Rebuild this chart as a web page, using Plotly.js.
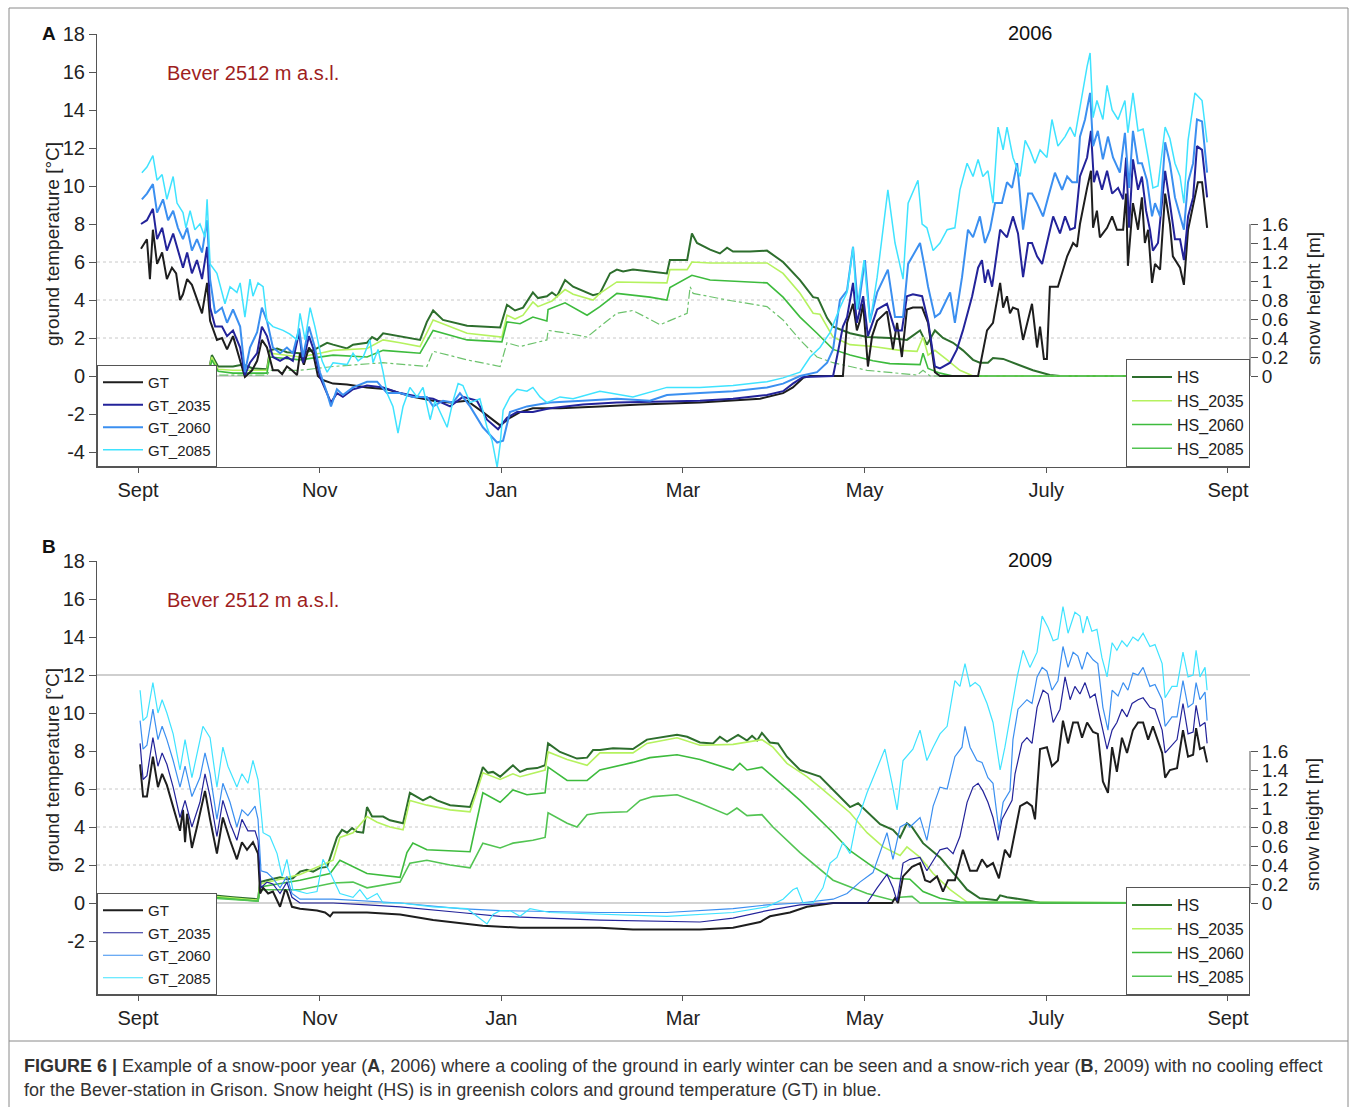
<!DOCTYPE html>
<html>
<head>
<meta charset="utf-8">
<script src="https://cdn.plot.ly/plotly-3.0.1.min.js"></script>
<style>html,body{margin:0;padding:0;background:#fff}#chart{width:1358px;height:1107px}</style>
</head>
<body>
<div id="chart"></div>
<script>
// ---------- axis tick labels ----------
const monthTicks = [0, 61, 122, 183, 244, 305, 366];
const monthLabels = ['Sept', 'Nov', 'Jan', 'Mar', 'May', 'July', 'Sept'];
const hsTicks = [0, 0.2, 0.4, 0.6, 0.8, 1, 1.2, 1.4, 1.6];
const hsLabels = ['0', '0.2', '0.4', '0.6', '0.8', '1', '1.2', '1.4', '1.6'];
const tempTicksA = [-4, -2, 0, 2, 4, 6, 8, 10, 12, 14, 16, 18];
const tempTicksB = [-2, 0, 2, 4, 6, 8, 10, 12, 14, 16, 18];

// ---------- Panel A (2006): [day since 1 Sept, value] ----------
const A_GT = [[1.0,6.7],[3.0,7.2],[4.0,5.1],[5.0,7.7],[6.4,5.9],[8.1,6.5],[9.7,5.1],[11.4,5.7],[12.8,5.4],[14.1,4.0],[15.1,4.3],[16.5,5.1],[18.1,4.8],[19.8,4.0],[21.5,3.3],[23.2,4.9],[24.2,2.9],[26.5,1.9],[28.2,2.0],[29.9,1.4],[31.9,2.1],[34.3,0.8],[35.9,-0.05],[38.3,0.3],[40.0,0.8],[41.6,1.9],[43.3,1.5],[45.3,0.3],[47.0,0.3],[48.4,0.1],[50.0,0.5],[51.7,0.3],[53.4,0.05],[54.4,1.2],[55.7,0.6],[57.4,1.5],[58.8,1.2],[60.4,0.0],[61.8,-0.2],[65.5,-0.4],[70.2,-0.45],[76.9,-0.6],[83.6,-0.7],[92.3,-1.1],[99.1,-1.3],[104.8,-1.4],[110.5,-1.3],[115.8,-1.9],[121.6,-2.6],[124.9,-2.2],[128.3,-1.9],[132.6,-1.7],[141.7,-1.7],[155.1,-1.6],[168.6,-1.5],[188.7,-1.4],[208.9,-1.2],[216.6,-0.9],[219.9,-0.6],[223.3,-0.1],[225.7,0],[236.7,0],[238.1,2.8],[240.1,3.8],[241.4,2.4],[242.4,2.9],[243.5,3.8],[245.1,0.5],[246.5,2.1],[248.2,2.9],[251.5,3.4],[253.5,1.4],[254.9,2.8],[256.5,1.0],[258.2,3.5],[260.2,3.6],[263.3,3.6],[265.3,2.8],[267.6,0.2],[269.3,0],[282.1,0],[285.1,2.4],[287.1,2.8],[289.5,4.9],[290.5,3.6],[291.8,4.2],[292.8,3.3],[293.8,3.6],[295.5,3.5],[297.2,1.9],[298.9,2.9],[300.2,3.8],[301.9,1.5],[302.9,2.6],[304.2,0.9],[305.2,0.9],[306.2,4.7],[308.9,4.7],[312.0,6.3],[314.0,7.0],[315.3,6.8],[316.3,8.0],[318.7,9.9],[320.0,10.8],[320.7,7.8],[322.0,8.7],[323.0,7.3],[325.4,7.8],[327.1,8.4],[328.7,7.7],[330.8,7.7],[331.8,9.6],[332.4,5.8],[334.1,9.1],[335.8,7.7],[337.1,9.4],[338.1,7.0],[339.2,7.7],[340.5,4.9],[341.5,5.9],[343.2,5.6],[344.9,9.6],[346.5,8.0],[347.5,6.3],[349.9,5.7],[351.2,4.8],[352.6,7.7],[354.3,8.9],[355.9,10.2],[357.3,10.2],[359.0,7.8]];
const A_GT2035 = [[1.0,8.0],[3.0,8.2],[5.0,8.8],[6.4,7.2],[8.1,7.8],[9.7,6.6],[11.8,7.5],[13.4,6.6],[15.1,5.7],[16.5,6.5],[18.1,5.4],[19.8,6.1],[21.5,5.1],[23.2,6.8],[24.2,3.6],[25.9,2.6],[28.2,2.6],[29.9,2.1],[31.9,2.4],[34.3,1.5],[35.9,0.05],[37.6,0.7],[40.0,1.2],[41.6,2.6],[43.3,2.1],[45.3,1.0],[47.7,0.8],[50.0,1.0],[52.0,0.8],[54.1,2.3],[55.4,0.7],[57.4,2.1],[59.4,1.2],[61.1,-0.05],[63.5,-0.9],[64.8,-1.4],[66.8,-0.9],[68.8,-1.1],[72.2,-0.7],[76.9,-0.5],[82.3,-0.6],[88.0,-0.9],[94.7,-1.1],[99.1,-1.2],[104.8,-1.6],[109.1,-1.1],[113.8,-1.3],[117.2,-2.3],[120.9,-2.8],[123.9,-2.2],[127.3,-1.9],[132.6,-1.9],[138.3,-1.7],[149.4,-1.5],[160.8,-1.4],[188.7,-1.3],[199.8,-1.2],[211.2,-1.0],[216.6,-0.8],[219.9,-0.4],[223.3,-0.05],[233.4,0],[234.7,1.0],[236.7,2.6],[238.1,3.1],[240.1,4.9],[241.4,2.8],[243.5,4.2],[245.1,2.1],[248.2,3.5],[251.5,3.8],[254.2,2.4],[256.5,2.4],[258.2,4.2],[260.2,4.3],[263.3,4.2],[265.3,2.9],[267.6,0.5],[269.3,0.4],[272.7,0.7],[275.0,1.4],[277.0,2.4],[280.1,4.2],[282.1,5.7],[283.4,6.1],[284.4,4.9],[285.4,5.6],[286.8,4.7],[289.5,7.7],[291.8,7.3],[293.8,8.4],[295.5,7.5],[297.2,5.2],[298.9,7.0],[300.2,7.0],[301.9,6.3],[303.6,5.9],[305.2,7.0],[307.3,8.4],[309.6,7.5],[311.3,8.4],[313.0,7.7],[314.6,7.8],[316.3,10.5],[318.7,11.5],[320.0,12.9],[321.0,10.2],[322.0,10.8],[323.7,9.8],[325.4,10.8],[327.1,9.6],[329.1,9.9],[330.8,9.3],[331.8,11.5],[332.8,7.8],[334.1,11.4],[335.8,9.8],[337.1,10.5],[338.5,8.7],[339.8,7.7],[340.8,6.6],[342.5,7.0],[344.9,10.8],[346.5,9.1],[348.2,7.2],[349.9,7.2],[351.2,6.1],[352.6,8.4],[354.3,9.4],[355.6,12.1],[357.3,11.9],[359.0,9.4]];
const A_GT2060 = [[1.3,9.3],[3.0,9.6],[5.0,10.1],[6.4,8.6],[8.4,9.3],[10.1,8.2],[11.8,8.7],[13.4,7.8],[15.1,7.2],[16.5,7.8],[18.1,6.6],[19.8,7.2],[21.5,6.5],[23.2,8.2],[24.2,5.1],[25.9,3.3],[28.2,3.6],[29.9,2.8],[31.9,3.5],[34.3,2.6],[35.9,0.2],[37.6,1.5],[40.0,2.3],[41.6,3.6],[43.3,2.9],[45.3,1.5],[47.7,1.2],[50.0,1.5],[52.0,1.2],[54.1,2.5],[55.4,1.0],[57.4,2.6],[59.4,1.5],[61.1,0.2],[63.5,-0.9],[64.8,-1.6],[66.8,-0.7],[68.8,-1.0],[72.2,-0.6],[76.9,-0.3],[80.3,-0.3],[83.6,-0.9],[88.0,-0.9],[92.3,-1.1],[97.0,-1.1],[99.1,-1.6],[102.4,-1.3],[105.8,-1.4],[108.1,-0.9],[111.5,-1.6],[115.8,-2.7],[120.6,-3.5],[122.6,-3.4],[124.9,-1.9],[130.6,-1.6],[138.3,-1.4],[149.4,-1.3],[160.8,-1.2],[171.9,-1.3],[177.6,-1.0],[188.7,-0.9],[199.8,-0.8],[211.2,-0.6],[216.6,-0.4],[222.3,0],[228.0,0.2],[231.4,0.7],[233.4,1.4],[235.7,4.0],[238.1,4.5],[240.1,6.8],[241.8,3.5],[244.1,6.1],[245.8,2.9],[248.2,4.4],[251.8,5.6],[254.2,3.1],[256.9,3.1],[258.6,5.9],[262.6,7.0],[264.3,5.6],[265.3,4.7],[267.6,3.1],[269.3,3.3],[272.7,4.4],[274.3,2.8],[276.7,5.2],[278.7,7.7],[280.4,7.3],[282.7,8.4],[284.4,7.0],[286.1,7.7],[287.8,9.1],[290.1,9.1],[291.8,10.2],[293.5,9.9],[295.2,11.2],[297.2,7.7],[298.9,9.6],[300.2,9.6],[301.9,9.1],[303.9,8.4],[305.6,9.4],[307.9,10.7],[310.3,9.8],[312.0,10.5],[313.7,10.2],[315.3,10.2],[316.3,12.6],[318.0,13.5],[319.7,14.9],[320.7,12.1],[322.3,12.9],[324.0,11.4],[325.7,12.6],[327.4,11.5],[329.7,10.7],[331.4,12.8],[332.8,9.9],[334.1,12.9],[335.8,11.2],[337.1,11.2],[338.8,10.3],[340.5,8.4],[341.5,9.1],[343.2,8.4],[344.9,12.3],[346.5,11.2],[348.2,9.4],[349.9,8.4],[351.2,7.7],[352.6,10.2],[354.3,11.2],[355.6,13.5],[357.3,13.4],[359.0,10.7]];
const A_GT2085 = [[1.3,10.7],[3.0,11.0],[5.0,11.6],[6.4,10.3],[8.1,10.6],[9.7,9.3],[11.8,10.5],[13.1,9.1],[15.1,8.6],[16.1,7.8],[17.5,8.7],[19.1,7.7],[20.8,8.0],[22.5,7.3],[23.2,9.3],[24.2,5.9],[26.5,5.4],[29.2,3.8],[30.9,4.7],[33.2,4.4],[34.3,4.9],[35.9,3.1],[37.6,5.1],[38.6,4.2],[40.3,4.9],[42.0,4.7],[43.3,2.9],[45.3,2.6],[48.7,2.4],[51.0,2.2],[53.4,1.9],[54.4,3.3],[56.1,1.9],[57.8,3.6],[59.4,2.6],[61.8,0.8],[63.5,0.2],[65.5,0.7],[70.2,0.6],[72.2,1.2],[73.9,0.8],[75.6,1.0],[77.9,1.9],[78.9,0.7],[80.6,1.4],[82.3,0.2],[83.6,-0.9],[85.6,-1.6],[87.3,-3.0],[89.0,-1.6],[91.3,-0.6],[93.7,-1.1],[95.7,-0.6],[98.1,-2.3],[99.7,-1.3],[103.8,-2.7],[105.8,-1.3],[107.5,-0.4],[109.1,-0.5],[111.5,-1.4],[114.8,-1.2],[117.2,-2.7],[118.9,-3.4],[120.6,-4.8],[121.6,-3.6],[122.6,-1.8],[124.9,-1.1],[127.3,-0.7],[130.6,-0.8],[132.6,-0.6],[135.0,-1.1],[137.3,-1.4],[141.7,-1.1],[146.1,-1.2],[155.1,-0.8],[166.2,-1.1],[177.6,-0.6],[188.7,-0.6],[199.8,-0.5],[211.2,-0.3],[216.6,-0.1],[222.3,0.2],[225.7,1.0],[229.0,1.5],[232.4,2.3],[235.7,3.6],[238.1,4.4],[240.1,6.8],[241.4,3.5],[243.8,6.1],[245.8,2.8],[248.2,5.2],[251.8,9.8],[254.2,7.0],[256.9,5.1],[258.6,9.1],[261.9,10.3],[263.3,8.0],[264.9,7.8],[267.0,6.6],[269.3,7.0],[271.7,7.7],[274.3,7.8],[276.0,9.8],[278.4,11.2],[280.4,10.5],[282.1,11.4],[283.7,10.5],[285.4,10.8],[287.1,9.1],[288.8,13.1],[290.5,11.9],[291.8,13.1],[293.8,11.5],[296.2,10.5],[297.9,12.4],[299.5,11.9],[301.2,11.2],[302.9,11.9],[305.2,11.5],[306.9,13.5],[308.9,12.1],[311.3,12.6],[313.0,13.1],[314.6,12.6],[316.3,14.2],[318.7,16.3],[319.7,17.0],[320.7,13.6],[322.0,14.5],[324.0,13.5],[325.4,15.3],[327.1,14.0],[329.1,13.5],[331.4,14.5],[332.4,12.8],[334.1,14.9],[335.8,12.9],[337.5,13.0],[339.2,11.5],[340.8,9.9],[342.5,10.0],[344.9,13.1],[346.5,12.5],[348.2,11.2],[349.9,10.5],[351.2,9.1],[352.6,12.4],[354.9,14.9],[357.3,14.5],[359.0,12.3]];
const A_HS = [[22.5,0],[23.5,0.02],[24.8,0.22],[26.9,0.1],[31.9,0.1],[35.3,0.12],[38.6,0.08],[43.3,0.07],[44.3,0.27],[46.7,0.29],[50.0,0.25],[54.4,0.24],[58.8,0.27],[61.1,0.31],[63.5,0.35],[65.5,0.33],[70.2,0.29],[72.2,0.33],[76.9,0.35],[78.6,0.41],[80.3,0.38],[82.3,0.45],[85.6,0.43],[94.7,0.38],[97.0,0.57],[99.1,0.69],[102.4,0.59],[110.5,0.53],[121.6,0.51],[123.9,0.75],[126.6,0.69],[129.3,0.72],[132.6,0.88],[134.3,0.82],[137.3,0.84],[139.0,0.88],[140.7,0.84],[143.4,1.01],[146.1,0.94],[152.8,0.85],[155.1,0.87],[158.5,1.08],[160.8,1.12],[162.9,1.10],[166.2,1.12],[171.9,1.10],[177.6,1.08],[178.6,1.22],[184.4,1.22],[186.0,1.5],[187.7,1.40],[192.1,1.33],[195.4,1.29],[197.8,1.35],[199.8,1.31],[205.5,1.31],[211.2,1.32],[216.6,1.2],[222.3,1.01],[226.7,0.83],[228.3,0.82],[231.4,0.61],[233.4,0.52],[239.1,0.45],[244.8,0.41],[252.5,0.40],[258.2,0.38],[262.6,0.48],[264.9,0.33],[267.6,0.48],[270.3,0.40],[273.7,0.35],[277.0,0.27],[280.4,0.17],[282.7,0.14],[285.4,0.14],[287.1,0.19],[290.5,0.18],[295.2,0.12],[300.5,0.06],[306.2,0.01],[309.6,0],[359.0,0]];
const A_HS2035 = [[22.5,0],[23.5,0.02],[24.8,0.2],[26.9,0.07],[31.9,0.06],[43.3,0.06],[44.3,0.24],[54.4,0.2],[61.1,0.24],[65.5,0.27],[76.9,0.29],[82.3,0.38],[88.0,0.35],[94.7,0.31],[99.1,0.59],[110.5,0.45],[122.2,0.41],[123.9,0.64],[126.6,0.6],[129.3,0.64],[132.6,0.78],[134.3,0.73],[139.0,0.79],[143.4,0.91],[146.1,0.86],[152.8,0.80],[155.1,0.87],[160.8,0.99],[177.6,0.98],[178.6,1.12],[184.4,1.12],[186.0,1.2],[192.1,1.19],[211.2,1.19],[216.6,1.08],[222.3,0.87],[226.7,0.66],[229.0,0.65],[233.4,0.41],[239.1,0.33],[246.8,0.31],[255.9,0.27],[261.6,0.26],[263.6,0.41],[265.3,0.22],[267.6,0.27],[271.7,0.17],[276.0,0.06],[280.4,0],[359.0,0]];
const A_HS2060 = [[22.5,0],[23.8,0.02],[24.8,0.17],[26.9,0.05],[31.9,0.03],[43.3,0.03],[44.3,0.2],[54.4,0.17],[65.5,0.22],[76.9,0.2],[82.3,0.27],[94.7,0.24],[99.1,0.48],[110.5,0.38],[122.2,0.36],[123.9,0.57],[128.3,0.55],[132.6,0.62],[137.3,0.58],[137.7,0.7],[143.4,0.77],[150.8,0.64],[155.1,0.73],[160.8,0.87],[171.9,0.83],[177.6,0.8],[178.6,0.93],[186.0,1.06],[192.1,1.01],[211.2,0.98],[216.6,0.83],[222.3,0.62],[228.0,0.45],[233.4,0.28],[239.1,0.22],[246.8,0.16],[252.5,0.13],[262.6,0.12],[263.6,0.24],[265.3,0.08],[269.3,0.03],[273.7,0],[359.0,0]];
const A_HS2085 = [[22.5,0],[24.2,0.06],[27.5,0.01],[43.3,0.01],[44.3,0.06],[54.4,0.06],[65.5,0.1],[82.3,0.14],[97.0,0.1],[99.1,0.26],[110.5,0.17],[121.6,0.1],[123.9,0.35],[128.3,0.31],[137.3,0.38],[137.7,0.48],[144.1,0.45],[150.8,0.41],[155.1,0.52],[160.8,0.66],[166.2,0.69],[175.3,0.54],[184.4,0.66],[185.4,0.94],[186.4,0.87],[197.8,0.8],[211.2,0.73],[216.6,0.59],[222.3,0.38],[228.0,0.2],[233.4,0.14],[244.8,0.06],[261.6,0.01],[263.6,0.06],[266.0,0],[359.0,0]];

// ---------- Panel B (2009) ----------
const B_GT = [[0.7,7.3],[1.7,5.6],[3.0,5.6],[5.0,7.7],[6.7,6.1],[8.1,6.8],[9.7,6.2],[11.8,5.1],[14.1,3.8],[15.1,4.9],[15.8,3.2],[16.5,4.7],[18.1,2.9],[19.8,4.0],[22.5,5.9],[24.2,4.4],[26.5,2.6],[28.5,4.5],[30.9,3.3],[33.2,2.3],[34.9,3.2],[36.6,2.8],[38.6,3.2],[40.3,2.6],[41.0,0.5],[42.0,0.8],[43.7,0.5],[45.3,0.6],[47.7,-0.2],[49.4,0.7],[50.0,0.6],[51.7,-0.2],[54.4,-0.3],[60.1,-0.4],[62.8,-0.5],[64.5,-0.7],[65.5,-0.5],[76.9,-0.5],[88.0,-0.6],[99.1,-0.9],[110.5,-1.1],[115.8,-1.2],[128.3,-1.3],[155.1,-1.3],[166.2,-1.4],[188.7,-1.4],[199.8,-1.3],[208.9,-1.0],[212.2,-0.7],[218.9,-0.5],[224.6,-0.2],[233.4,0],[253.2,0],[254.2,0.26],[255.2,0],[256.9,1.4],[259.9,1.9],[262.6,2.1],[264.3,1.2],[266.0,1.1],[268.3,1.4],[270.3,0.6],[272.0,1.2],[274.3,1.2],[277.0,2.8],[279.4,1.7],[281.7,1.7],[283.4,2.3],[285.1,1.9],[287.1,2.1],[289.1,1.3],[291.1,2.8],[292.8,2.4],[296.2,5.1],[298.5,5.3],[300.2,5.1],[301.2,4.4],[302.9,8.1],[305.2,8.2],[306.9,7.2],[308.9,7.5],[310.6,9.6],[312.3,8.4],[314.0,9.5],[315.6,9.5],[317.0,8.7],[318.7,9.5],[320.7,9.0],[322.3,8.9],[324.0,6.4],[325.7,5.8],[327.1,8.2],[328.7,6.9],[330.4,8.7],[332.1,7.9],[334.1,9.1],[335.8,9.5],[337.5,9.5],[339.2,8.6],[340.8,9.3],[343.9,7.9],[344.9,6.6],[346.5,7.0],[348.9,7.1],[350.9,9.1],[352.6,7.7],[354.3,7.8],[355.3,9.2],[356.6,8.1],[357.9,8.2],[359.0,7.4]];
const B_GT2035 = [[0.7,8.4],[1.7,6.5],[3.0,6.7],[5.0,8.7],[6.7,7.2],[8.1,7.9],[9.7,7.3],[11.8,6.1],[14.1,4.5],[15.8,5.4],[18.1,4.0],[20.8,5.3],[22.5,6.8],[24.2,5.6],[26.5,3.5],[28.5,5.4],[30.9,4.2],[33.2,3.3],[34.9,4.4],[36.9,3.8],[39.3,3.8],[40.3,3.3],[41.3,0.8],[43.3,1.1],[45.3,1.0],[47.7,0.5],[50.0,1.1],[51.7,0.3],[54.4,0],[65.5,0],[76.9,-0.1],[88.0,-0.2],[108.1,-0.5],[121.6,-0.7],[155.1,-0.9],[188.7,-1.0],[199.8,-0.8],[211.2,-0.4],[222.3,-0.1],[233.4,0],[244.8,0],[248.2,0.8],[251.5,1.5],[253.5,0.8],[254.9,0.1],[256.9,2.1],[259.2,2.3],[262.6,2.4],[264.9,1.7],[269.3,2.8],[271.7,2.9],[273.7,2.6],[276.0,3.5],[278.4,5.3],[280.4,6.1],[282.1,6.3],[283.7,5.9],[285.4,5.3],[287.1,4.5],[288.8,3.3],[290.1,4.4],[291.8,4.9],[293.5,5.4],[294.5,6.8],[296.8,8.4],[298.5,8.7],[300.2,8.4],[301.9,10.3],[303.9,11.2],[305.6,11.0],[307.3,9.5],[309.6,10.2],[311.3,11.9],[313.0,10.7],[314.6,11.4],[316.3,11.0],[318.0,11.6],[319.7,10.8],[321.4,11.0],[323.0,9.8],[325.4,8.1],[327.1,9.1],[328.7,9.5],[330.4,10.2],[332.1,9.8],[333.8,10.5],[335.8,10.7],[337.5,10.8],[339.8,10.3],[341.5,10.2],[343.9,9.1],[344.9,7.9],[346.5,8.2],[348.9,8.6],[350.9,10.5],[352.6,8.9],[354.3,9.0],[355.3,10.4],[356.6,9.3],[358.3,9.5],[359.0,8.4]];
const B_GT2060 = [[0.7,9.6],[1.7,8.1],[3.0,8.3],[5.0,10.2],[6.7,8.6],[8.1,9.3],[9.7,8.6],[11.8,7.5],[14.1,6.1],[15.8,7.2],[18.1,5.6],[20.8,6.6],[22.5,7.9],[24.2,6.8],[26.5,4.4],[28.5,6.3],[30.9,5.3],[33.2,4.0],[34.9,4.9],[36.9,4.6],[39.3,5.1],[40.3,4.4],[41.3,1.7],[43.3,1.6],[45.3,1.3],[47.7,0.8],[50.0,1.4],[51.7,0.5],[54.4,0.2],[65.5,0.2],[88.0,0],[108.1,-0.3],[121.6,-0.4],[155.1,-0.5],[177.6,-0.5],[199.8,-0.3],[211.2,-0.1],[222.3,0],[233.4,0.2],[238.1,0.5],[242.4,1.1],[246.8,1.6],[251.5,3.7],[253.5,2.3],[255.9,4.0],[258.2,4.2],[259.2,4.0],[262.6,4.5],[264.9,3.3],[267.0,5.1],[269.3,6.1],[271.7,6.0],[274.3,7.7],[276.7,8.2],[277.7,9.3],[279.4,8.2],[281.7,7.5],[283.4,7.4],[285.4,6.6],[287.1,6.3],[289.1,3.8],[290.5,5.3],[292.8,5.9],[293.8,8.6],[295.5,10.2],[298.5,10.7],[300.2,10.5],[301.9,11.9],[303.6,12.4],[305.2,12.2],[306.9,11.2],[308.9,11.7],[310.6,13.5],[312.3,12.4],[314.0,13.2],[315.6,13.0],[317.0,12.3],[318.7,13.2],[320.7,12.8],[322.3,12.6],[324.0,10.3],[325.7,9.1],[327.1,11.2],[329.1,10.9],[330.8,11.6],[332.4,11.2],[334.1,12.1],[335.8,12.0],[337.5,12.4],[339.8,11.4],[341.5,11.5],[343.9,10.7],[344.9,9.3],[347.2,9.8],[348.9,9.8],[350.9,11.7],[352.6,10.3],[354.3,10.5],[355.3,11.6],[356.6,10.7],[358.3,11.1],[359.0,9.6]];
const B_GT2085 = [[0.7,11.2],[1.7,9.6],[3.0,9.8],[5.0,11.6],[6.7,10.0],[8.1,10.7],[9.7,10.0],[11.8,8.9],[14.1,7.0],[15.8,8.6],[18.1,6.6],[21.8,9.3],[24.2,8.7],[26.5,6.1],[28.5,8.2],[30.2,7.2],[33.2,6.1],[34.9,6.8],[36.9,6.3],[38.6,7.5],[40.3,6.5],[42.0,3.7],[44.3,3.5],[46.7,2.6],[48.4,1.4],[50.0,2.3],[52.0,0.7],[56.7,0.5],[60.1,0.6],[62.1,2.3],[64.5,1.6],[67.8,0.5],[72.2,0.3],[74.5,0.7],[76.9,0.2],[80.3,0.5],[82.3,0],[88.0,0],[99.1,-0.2],[110.5,-0.3],[117.2,-1.1],[119.2,-0.6],[121.6,-0.4],[124.9,-0.4],[128.3,-0.7],[131.6,-0.3],[138.3,-0.5],[155.1,-0.6],[177.6,-0.7],[199.8,-0.5],[211.2,-0.2],[216.6,0.2],[219.9,0.7],[221.3,0.8],[223.3,0],[226.7,0],[230.0,0.8],[232.4,2.1],[234.7,2.4],[236.7,3.2],[239.1,2.6],[241.4,4.4],[242.4,4.7],[244.8,5.8],[246.8,6.6],[250.8,8.1],[253.2,6.3],[254.9,4.9],[256.9,7.5],[258.6,7.8],[260.2,8.1],[262.6,9.1],[264.9,7.5],[267.0,8.2],[269.3,8.9],[271.7,9.3],[274.3,11.7],[276.0,11.4],[277.7,12.6],[279.4,11.4],[281.1,11.6],[282.7,11.4],[285.1,10.5],[287.1,9.5],[289.5,7.0],[291.1,8.2],[292.8,9.8],[295.2,11.9],[297.2,13.3],[299.5,12.4],[301.9,13.2],[303.6,15.1],[305.6,14.5],[307.3,13.8],[308.9,13.9],[310.6,15.6],[312.3,14.2],[314.6,15.3],[316.3,15.1],[317.3,14.2],[318.7,15.1],[320.3,14.3],[322.0,14.4],[323.7,12.9],[325.4,11.9],[327.1,13.7],[328.7,13.3],[330.4,13.8],[332.1,13.5],[334.1,14.0],[335.8,13.8],[337.5,14.2],[339.8,13.5],[341.5,13.6],[343.9,12.6],[344.9,10.8],[347.2,11.4],[348.9,11.4],[350.9,13.2],[352.6,11.9],[354.3,12.0],[355.3,13.3],[356.6,11.9],[358.3,12.4],[359.0,11.2]];
const B_HS = [[24.2,0],[25.2,0.08],[31.9,0.06],[40.3,0.04],[41.0,0.22],[43.3,0.24],[47.7,0.27],[50.0,0.25],[52.0,0.26],[54.4,0.33],[56.7,0.35],[58.8,0.33],[61.1,0.37],[63.5,0.38],[65.1,0.53],[66.8,0.69],[68.5,0.77],[70.2,0.74],[71.9,0.79],[73.5,0.75],[75.6,0.74],[76.9,1.01],[78.6,0.91],[82.3,0.91],[84.6,0.87],[89.0,0.84],[91.3,1.16],[93.7,1.12],[95.7,1.08],[98.1,1.12],[100.4,1.08],[104.8,1.03],[111.5,1.01],[113.2,1.16],[115.8,1.43],[117.5,1.37],[119.2,1.38],[121.6,1.33],[125.9,1.45],[128.3,1.38],[130.6,1.41],[134.0,1.42],[136.7,1.45],[137.7,1.68],[141.7,1.59],[147.4,1.52],[150.8,1.53],[152.8,1.61],[155.1,1.61],[159.5,1.63],[166.2,1.62],[170.9,1.72],[175.3,1.74],[181.0,1.77],[184.4,1.75],[188.7,1.69],[193.1,1.68],[195.4,1.75],[197.8,1.70],[201.5,1.77],[204.5,1.71],[206.2,1.76],[207.9,1.71],[209.5,1.79],[212.2,1.69],[214.9,1.68],[217.9,1.54],[222.3,1.40],[229.0,1.33],[233.4,1.19],[239.1,1.01],[241.8,1.05],[243.5,1.0],[246.8,0.91],[249.2,0.83],[253.5,0.77],[255.9,0.69],[258.2,0.84],[259.9,0.80],[263.6,0.63],[269.3,0.48],[275.0,0.27],[278.4,0.14],[282.7,0.05],[288.4,0.03],[289.5,0.08],[291.8,0.06],[298.5,0.03],[302.9,0],[359.0,0]];
const B_HS2035 = [[24.2,0],[25.2,0.07],[40.3,0.03],[41.0,0.2],[54.4,0.3],[65.5,0.45],[67.8,0.69],[72.2,0.74],[76.9,0.91],[80.3,0.85],[84.6,0.8],[89.0,0.77],[91.3,1.08],[97.0,1.03],[104.8,0.98],[111.5,0.96],[115.8,1.37],[121.6,1.30],[125.9,1.36],[128.3,1.33],[136.7,1.40],[137.7,1.59],[144.1,1.51],[150.8,1.45],[155.1,1.58],[166.2,1.58],[170.9,1.68],[181.0,1.74],[188.7,1.66],[199.8,1.67],[209.5,1.72],[213.2,1.64],[217.9,1.47],[224.6,1.33],[229.0,1.22],[239.1,0.95],[244.8,0.74],[250.2,0.59],[255.9,0.5],[258.2,0.59],[262.6,0.48],[267.0,0.31],[272.7,0.14],[278.4,0.01],[359.0,0]];
const B_HS2060 = [[24.2,0],[25.2,0.06],[40.3,0.02],[41.0,0.17],[54.4,0.24],[64.5,0.31],[67.8,0.45],[72.2,0.38],[76.9,0.31],[88.0,0.27],[90.3,0.53],[92.3,0.63],[97.0,0.56],[111.5,0.54],[113.8,0.87],[115.8,1.16],[121.6,1.06],[125.9,1.19],[130.6,1.14],[136.7,1.16],[137.7,1.43],[144.1,1.29],[150.8,1.29],[155.1,1.40],[166.2,1.48],[171.9,1.53],[181.0,1.56],[188.7,1.51],[199.8,1.40],[202.1,1.47],[204.5,1.40],[209.5,1.43],[213.2,1.33],[222.3,1.08],[233.4,0.74],[239.1,0.55],[246.8,0.38],[253.5,0.26],[259.2,0.25],[263.6,0.12],[269.3,0.05],[276.0,0.01],[359.0,0]];
const B_HS2085 = [[24.2,0],[25.2,0.05],[40.3,0.02],[41.0,0.14],[54.4,0.14],[65.5,0.21],[72.2,0.22],[76.9,0.16],[88.0,0.22],[91.3,0.42],[97.0,0.45],[104.8,0.4],[111.5,0.37],[115.8,0.63],[121.6,0.58],[125.9,0.63],[132.6,0.66],[136.7,0.69],[137.7,0.95],[144.1,0.84],[147.4,0.8],[150.8,0.93],[155.1,0.95],[164.2,0.96],[168.6,1.08],[172.9,1.12],[181.0,1.14],[188.7,1.05],[197.8,0.93],[201.1,1.0],[204.5,0.92],[209.5,0.93],[213.2,0.8],[222.3,0.53],[233.4,0.24],[244.8,0.1],[253.5,0.03],[255.9,0.06],[259.9,0.07],[262.6,0],[359.0,0]];

// ---------- helpers ----------
const xs = s => s.map(p => p[0]);
const ys = s => s.map(p => p[1]);
const FONT = 'Liberation Sans, Arial, Helvetica, sans-serif';

const C = {gt:'#1e1e1e', gt35:'#23239a', gt60:'#3b8ff0', gt85:'#3fe3ff',
           hs:'#2d6e2d', hs35:'#b5f25f', hs60:'#3dbb3d', hs85:'#52c452'};

function line(series, name, color, width, xa, ya, legend, opts) {
  const t = {type:'scatter', mode:'lines', x: xs(series), y: ys(series), name: name,
    xaxis: xa, yaxis: ya, legend: legend, showlegend: true,
    line: {color: color, width: width}, hoverinfo: 'skip'};
  if (opts) Object.assign(t, opts);
  return t;
}

const traces = [
  // panel A snow heights (base axis y, right side)
  line(A_HS, 'HS', C.hs, 2, 'x', 'y', 'legend2'),
  line(A_HS2035, 'HS_2035', C.hs35, 1.6, 'x', 'y', 'legend2'),
  line(A_HS2060, 'HS_2060', C.hs60, 1.6, 'x', 'y', 'legend2'),
  {type:'scatter', mode:'lines', x:[null], y:[null], name:'HS_2085', xaxis:'x', yaxis:'y',
   legend:'legend2', showlegend:true, line:{color:C.hs85, width:1.6}, hoverinfo:'skip'},
  line(A_HS2085, 'HS_2085', '#6cc26c', 1.2, 'x', 'y', 'legend2', {showlegend:false, line:{color:'#6cc26c', width:1.2, dash:'dashdot'}}),
  // panel A ground temperature (overlay axis y2, left side)
  line(A_GT, 'GT', C.gt, 2, 'x', 'y2', 'legend'),
  line(A_GT2035, 'GT_2035', C.gt35, 2, 'x', 'y2', 'legend'),
  line(A_GT2060, 'GT_2060', C.gt60, 2, 'x', 'y2', 'legend'),
  line(A_GT2085, 'GT_2085', C.gt85, 1.5, 'x', 'y2', 'legend'),
  // panel B snow heights
  line(B_HS, 'HS', C.hs, 2, 'x2', 'y3', 'legend4'),
  line(B_HS2035, 'HS_2035', C.hs35, 1.6, 'x2', 'y3', 'legend4'),
  line(B_HS2060, 'HS_2060', C.hs60, 1.6, 'x2', 'y3', 'legend4'),
  line(B_HS2085, 'HS_2085', C.hs85, 1.6, 'x2', 'y3', 'legend4'),
  // panel B ground temperature
  line(B_GT, 'GT', C.gt, 2, 'x2', 'y4', 'legend3'),
  line(B_GT2035, 'GT_2035', C.gt35, 1.2, 'x2', 'y4', 'legend3'),
  line(B_GT2060, 'GT_2060', C.gt60, 1.2, 'x2', 'y4', 'legend3'),
  line(B_GT2085, 'GT_2085', C.gt85, 1.2, 'x2', 'y4', 'legend3')
];

// ---------- layout ----------
const W = 1358, H = 1107;
const px = v => v / W;          // pixel -> paper x
const py = v => 1 - v / H;      // pixel -> paper y
const xDom = [px(97), px(1250)];
const domA = [py(467), py(34)];
const domB = [py(995), py(561)];
const tempRangeA = [(376 - 467) / 19, 18];
const tempRangeB = [(903 - 995) / 19, 18];

const axisLine = '#555';
const tickFont = {family: FONT, size: 20, color: '#222'};

function xAxis(anchor) {
  return {domain: xDom, anchor: anchor, range: [-13.77, 373.4], tickmode: 'array',
    tickvals: monthTicks, ticktext: monthLabels, ticks: 'outside', ticklen: 5, tickcolor: axisLine,
    showline: true, linecolor: axisLine, linewidth: 1, showgrid: false, zeroline: false,
    tickfont: tickFont, fixedrange: true};
}
function hsAxis(dom, anchor, range) {
  return {domain: dom, anchor: anchor, side: 'right', range: range, tickmode: 'array',
    tickvals: hsTicks, ticktext: hsLabels, ticks: 'outside', ticklen: 7, tickcolor: axisLine,
    showline: false, showgrid: false, zeroline: false, tickfont: {family: FONT, size: 19, color: '#222'}};
}
function tempAxis(over, anchor, range, ticks) {
  return {overlaying: over, anchor: anchor, side: 'left', range: range, tickmode: 'array',
    tickvals: ticks, ticktext: ticks.map(v => String(v)), ticks: 'outside', ticklen: 7, tickcolor: axisLine,
    showline: true, linecolor: axisLine, linewidth: 1, showgrid: false, zeroline: false, tickfont: tickFont};
}

function gridShapes(yref, xref) {
  const out = [{type:'line', xref: xref + ' domain', x0:0, x1:1, yref: yref, y0:0, y1:0,
                line:{color:'#c4c4c4', width:1.5}, layer:'below'}];
  [2, 4, 6].forEach(v => out.push({type:'line', xref: xref + ' domain', x0:0, x1:1, yref: yref, y0:v, y1:v,
                line:{color:'#c8c8c8', width:1, dash:'dot'}, layer:'below'}));
  return out;
}

const shapes = [].concat(
  gridShapes('y2', 'x'),
  gridShapes('y4', 'x2'),
  [{type:'line', xref:'x2 domain', x0:0, x1:1, yref:'y4', y0:12, y1:12, line:{color:'#cfcfcf', width:2}, layer:'below'},
   // right-hand snow-height axis lines (0 .. 1.6 m)
   {type:'line', xref:'x domain', x0:1, x1:1, yref:'y', y0:0, y1:1.6, line:{color:axisLine, width:1}},
   {type:'line', xref:'x2 domain', x0:1, x1:1, yref:'y3', y0:0, y1:1.6, line:{color:axisLine, width:1}},
   // figure frame
   {type:'line', xref:'paper', yref:'paper', x0:px(9), x1:px(1348), y0:py(8), y1:py(8), line:{color:'#8a8a8a', width:1}},
   {type:'line', xref:'paper', yref:'paper', x0:px(9), x1:px(9), y0:py(8), y1:0, line:{color:'#8a8a8a', width:1}},
   {type:'line', xref:'paper', yref:'paper', x0:px(1348), x1:px(1348), y0:py(8), y1:0, line:{color:'#8a8a8a', width:1}},
   {type:'line', xref:'paper', yref:'paper', x0:px(9), x1:px(1348), y0:py(1041), y1:py(1041), line:{color:'#8a8a8a', width:1}}]
);

function ann(text, x, y, opts) {
  return Object.assign({text: text, x: px(x), y: py(y), xref: 'paper', yref: 'paper', showarrow: false,
    font: {family: FONT, size: 20, color: '#111'}, xanchor: 'center', yanchor: 'middle'}, opts || {});
}

const annotations = [
  ann('<b>A</b>', 49, 33, {font:{family:FONT, size:19, color:'#111'}}),
  ann('<b>B</b>', 49, 546, {font:{family:FONT, size:19, color:'#111'}}),
  ann('Bever 2512 m a.s.l.', 165, 73, {xanchor:'left', font:{family:FONT, size:20, color:'#9e1e1e'}}),
  ann('Bever 2512 m a.s.l.', 165, 600, {xanchor:'left', font:{family:FONT, size:20, color:'#9e1e1e'}}),
  ann('2006', 1030, 33, {font:{family:FONT, size:20, color:'#111'}}),
  ann('2009', 1030, 560, {font:{family:FONT, size:20, color:'#111'}}),
  ann('ground temperature [°C]', 52, 244, {textangle:-90, font:{family:FONT, size:19, color:'#222'}}),
  ann('ground temperature [°C]', 52, 770, {textangle:-90, font:{family:FONT, size:19, color:'#222'}}),
  ann('snow height [m]', 1313, 299, {textangle:-90, font:{family:FONT, size:19, color:'#222'}}),
  ann('snow height [m]', 1313, 825, {textangle:-90, font:{family:FONT, size:19, color:'#222'}}),
  ann('<b>FIGURE 6 |</b> Example of a snow-poor year (<b>A</b>, 2006) where a cooling of the ground in early winter can be seen and a snow-rich year (<b>B</b>, 2009) with no cooling effect',
      22, 1066, {xanchor:'left', font:{family:FONT, size:18, color:'#333'}}),
  ann('for the Bever-station in Grison. Snow height (HS) is in greenish colors and ground temperature (GT) in blue.',
      22, 1090, {xanchor:'left', font:{family:FONT, size:18, color:'#333'}})
];

function legendBox(x, y, xanchor, size) {
  return {x: x, y: y, xref: 'paper', yref: 'paper', xanchor: xanchor, yanchor: 'bottom',
    bgcolor: '#ffffff', bordercolor: '#555', borderwidth: 1, itemwidth: 40,
    font: {family: FONT, size: size, color: '#222'}, traceorder: 'normal', orientation: 'v'};
}

const layout = {
  width: W, height: H, paper_bgcolor: '#ffffff', plot_bgcolor: 'rgba(0,0,0,0)',
  margin: {l:0, r:0, t:0, b:0, pad:0}, font: {family: FONT, color: '#222'},
  hovermode: false, showlegend: true,
  xaxis: xAxis('y'),
  xaxis2: xAxis('y3'),
  yaxis: hsAxis(domA, 'x', [tempRangeA[0] / 5, tempRangeA[1] / 5]),
  yaxis2: tempAxis('y', 'x', tempRangeA, tempTicksA),
  yaxis3: hsAxis(domB, 'x2', [tempRangeB[0] / 5, tempRangeB[1] / 5]),
  yaxis4: tempAxis('y3', 'x2', tempRangeB, tempTicksB),
  legend: legendBox(px(97), py(467), 'left', 15),
  legend2: legendBox(px(1250), py(467), 'right', 16),
  legend3: legendBox(px(97), py(995), 'left', 15),
  legend4: legendBox(px(1250), py(995), 'right', 16),
  shapes: shapes,
  annotations: annotations
};

Plotly.newPlot('chart', traces, layout, {staticPlot: true, displayModeBar: false});
</script>
</body>
</html>
